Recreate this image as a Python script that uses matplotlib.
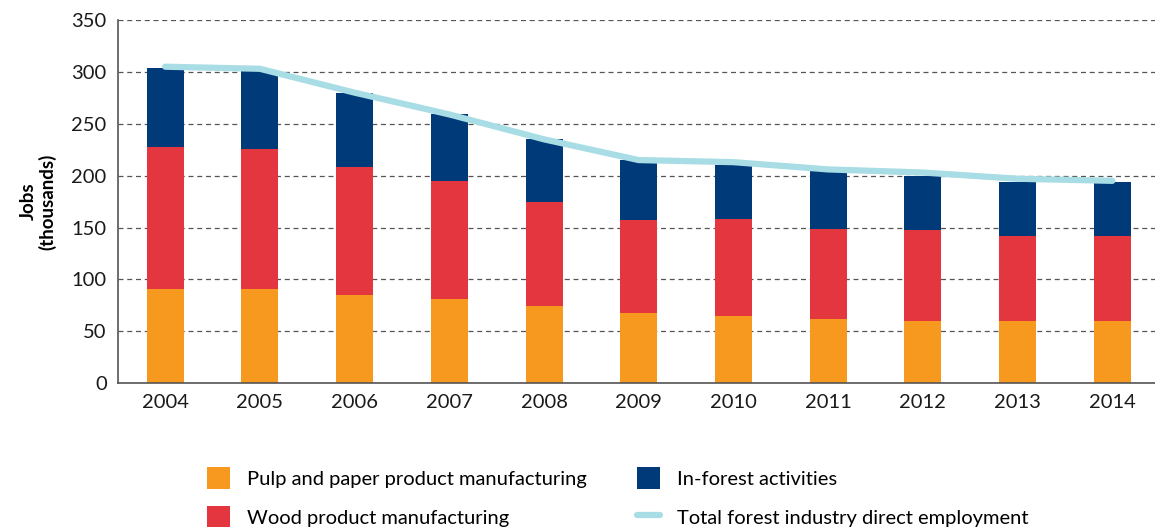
import matplotlib
matplotlib.use('Agg')
import matplotlib.pyplot as plt
import numpy as np

plt.rcParams['font.family'] = ['Lato', 'DejaVu Sans']

# Canadian forest industry direct employment, thousands of jobs
years = ['2004', '2005', '2006', '2007', '2008', '2009', '2010', '2011', '2012', '2013', '2014']
pulp_paper = [91, 91, 85, 81, 74, 68, 65, 62, 60, 60, 60]
wood_products = [137, 135, 123, 114, 101, 89, 93, 87, 88, 82, 82]
in_forest = [76, 76, 72, 64, 60, 58, 52, 55, 52, 52, 52]
total_employment = [305, 303, 280, 259, 235, 215, 213, 206, 203, 197, 195]

orange = '#F7991E'
red = '#E3363F'
navy = '#003A78'
light_blue = '#A8DDE5'

fig = plt.figure(figsize=(11.55, 5.27), dpi=100)
ax = fig.add_axes([0.102, 0.273, 0.898, 0.689])

x = np.arange(len(years))
width = 0.39
bottom2 = np.array(pulp_paper)
bottom3 = bottom2 + np.array(wood_products)

b1 = ax.bar(x, pulp_paper, width, color=orange, zorder=2)
b2 = ax.bar(x, wood_products, width, bottom=bottom2, color=red, zorder=2)
b3 = ax.bar(x, in_forest, width, bottom=bottom3, color=navy, zorder=2)
ln, = ax.plot(x, total_employment, color=light_blue, lw=4.5, solid_capstyle='round', zorder=3)

ax.set_xlim(-0.5, 10.45)
ax.set_ylim(0, 350)
ax.set_yticks(range(0, 351, 50))
ax.set_xticks(x)
ax.set_xticklabels(years)
ax.tick_params(length=0, labelsize=14.5, colors='#1a1a1a', pad=8)

ax.grid(axis='y', color='#555555', linestyle=(0, (4, 3)), lw=0.9, zorder=1)
for side in ['top', 'right']:
    ax.spines[side].set_visible(False)
for side in ['left', 'bottom']:
    ax.spines[side].set_color('#555555')
    ax.spines[side].set_linewidth(1.2)

ax.set_ylabel('Jobs\n(thousands)', fontsize=13.5, fontweight='bold', labelpad=11,
              linespacing=1.1)

# legend is filled column by column: bars first, then the in-forest bar and total line
handles = [b1, b2, b3, ln]
labels = ['Pulp and paper product manufacturing', 'Wood product manufacturing',
          'In-forest activities', 'Total forest industry direct employment']
fig.legend(handles, labels, ncol=2, loc='upper left', bbox_to_anchor=(0.172, 0.13),
           frameon=False, fontsize=14.5, handlelength=1.15, handleheight=1.35,
           handletextpad=0.85, columnspacing=2.5, labelspacing=0.82, borderaxespad=0)

fig.savefig('out.png', dpi=100)
